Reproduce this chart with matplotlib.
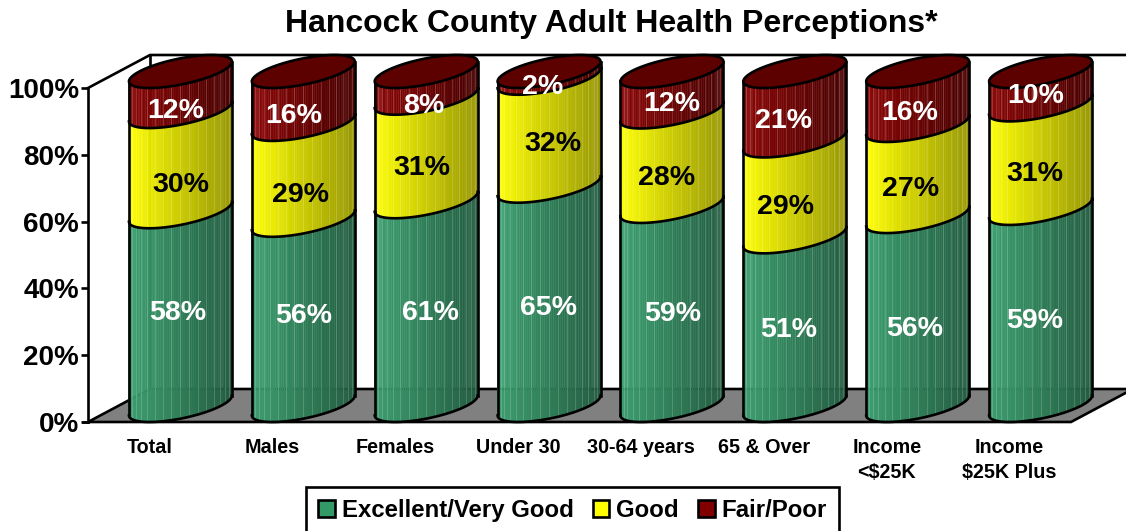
import numpy as np
import matplotlib
matplotlib.use("Agg")
import matplotlib.pyplot as plt
from matplotlib.patches import Patch, Polygon
from matplotlib.collections import PolyCollection

plt.rcParams["font.family"] = ["Liberation Sans", "DejaVu Sans"]
plt.rcParams["font.weight"] = "bold"

categories = ["Total", "Males", "Females", "Under 30", "30-64 years", "65 & Over",
              "Income\n<$25K", "Income\n$25K Plus"]
excellent = [58, 56, 61, 65, 59, 51, 56, 59]
good = [30, 29, 31, 32, 28, 29, 27, 31]
fair = [12, 16, 8, 2, 12, 21, 16, 10]
series_names = ["Excellent/Very Good", "Good", "Fair/Poor"]
yticks = [0, 20, 40, 60, 80, 100]

# hand placed data labels in the original: height on the front plane and x nudge in px
label_level = [
    [33.5, 32.6, 33.5, 35.0, 33.2, 28.4, 28.7, 31.1],
    [71.6, 68.6, 76.9, 84.1, 73.7, 65.0, 70.4, 75.1],
    [94.0, 92.5, 95.5, 100.9, 96.1, 91.0, 93.4, 98.5],
]
label_nudge = [
    [-2.5, 0, 4, -1, 1, -6, -3, -6],
    [0.5, -3, -4, 4, -5, -9, -7, -6],
    [-4.5, -10, -2, -6, 0, -11, -8, -5],
]

W, H = 1126, 531
X0, X1 = 88, 1071
Y0, Y100 = 422, 88
PX_X = (X1 - X0) / len(categories)
PX_Y = (Y0 - Y100) / 100
DX = 62 / PX_X
DY = 33 / PX_Y
A = 41.1 / PX_X
LW = 1.9
N_FACETS = 18

left_cols = [np.array([0x3C, 0xA0, 0x70]), np.array([0xFF, 0xFF, 0x00]), np.array([0x8C, 0x06, 0x06])]
right_cols = [np.array([0x22, 0x5C, 0x40]), np.array([0x96, 0x96, 0x00]), np.array([0x48, 0x00, 0x00])]
label_cols = ["white", "black", "white"]
legend_cols = ["#339966", "#FFFF00", "#800000"]
TOP_COL = "#5C0000"


def ring(x, level, t):
    """Point on the slanted ellipse of a cylinder at this stacked level."""
    cx = x + 0.5 + DX / 2
    cy = level + DY / 2
    return cx + A * np.cos(t) + DX / 2 * np.sin(t), cy + DY / 2 * np.sin(t)


def draw_segment(ax, x, lo, hi, idx):
    t0 = np.arctan2(DX / 2, A)
    t = np.linspace(t0 + np.pi, t0 + 2 * np.pi, 4 * N_FACETS + 1)
    xs, yl = ring(x, lo, t)
    _, yh = ring(x, hi, t)
    polys, cols = [], []
    for j in range(4 * N_FACETS):
        polys.append([(xs[j], yl[j]), (xs[j + 1], yl[j + 1]), (xs[j + 1], yh[j + 1]), (xs[j], yh[j])])
        f = ((xs[j] + xs[j + 1]) / 2 - xs[0]) / (xs[-1] - xs[0])
        cols.append((left_cols[idx] * (1 - f) + right_cols[idx] * f) / 255)
    ax.add_collection(PolyCollection(polys, facecolors=cols, edgecolors=cols, lw=0.3,
                                     clip_on=False, zorder=3))
    # pale seams between the facets
    for j in range(4, 4 * N_FACETS, 4):
        ax.plot([xs[j], xs[j]], [yl[j], yh[j]], color="white", alpha=0.2, lw=0.6,
                clip_on=False, zorder=3.1, solid_capstyle="butt")
    ax.plot(xs, yl, color="black", lw=LW, clip_on=False, zorder=4)
    ax.plot([xs[0], xs[0]], [yl[0], yh[0]], color="black", lw=LW, clip_on=False, zorder=4)
    ax.plot([xs[-1], xs[-1]], [yl[-1], yh[-1]], color="black", lw=LW, clip_on=False, zorder=4)


fig = plt.figure(figsize=(W / 100, H / 100), dpi=100)
ax = fig.add_axes([X0 / W, 1 - Y0 / H, (X1 - X0) / W, (Y0 - Y100) / H])
n = len(categories)
ax.set_xlim(0, n)
ax.set_ylim(0, 100)

# floor and walls
floor = Polygon([(0, 0), (DX, DY), (n + DX, DY), (n, 0)], closed=True, facecolor="#808080",
                edgecolor="black", lw=LW, clip_on=False, zorder=1)
ax.add_patch(floor)
ax.plot([0, DX, n + DX], [100, 100 + DY, 100 + DY], color="black", lw=LW, clip_on=False, zorder=1)
ax.plot([DX, DX], [DY, 100 + DY], color="black", lw=LW, clip_on=False, zorder=1)

values = np.array([excellent, good, fair], dtype=float)
stack = np.cumsum(values / values.sum(axis=0) * 100, axis=0)
for i in range(n):
    lo = 0.0
    for s in range(3):
        draw_segment(ax, i, lo, stack[s, i], s)
        lo = stack[s, i]
    t = np.linspace(0, 2 * np.pi, 80)
    ex, ey = ring(i, 100, t)
    ax.add_patch(Polygon(np.column_stack([ex, ey]), closed=True, facecolor=TOP_COL,
                         edgecolor="black", lw=LW, clip_on=False, zorder=5))
    for s, vals in enumerate(values):
        ax.annotate(f"{int(vals[i])}%", xy=(i + 0.5 + DX / 2, label_level[s][i]),
                    xytext=(label_nudge[s][i] * 0.72, -1.8), textcoords="offset points",
                    ha="center", va="center", fontsize=20.5, fontweight="bold",
                    color=label_cols[s], zorder=6, annotation_clip=False)

ax.patch.set_visible(False)
for name in ["top", "right", "bottom"]:
    ax.spines[name].set_visible(False)
ax.spines["left"].set_linewidth(LW)
ax.spines["left"].set_zorder(2)
ax.set_yticks(yticks)
ax.set_yticklabels([f"{v}%" for v in yticks], fontsize=20, fontweight="bold")
ax.tick_params(axis="y", length=5, width=LW, pad=1.5)
ax.set_xticks(np.arange(n) + 0.5)
ax.set_xticklabels(categories, fontsize=14.2, fontweight="bold", linespacing=1.4)
ax.tick_params(axis="x", length=0, pad=11.5)
ax.plot([-5 / PX_X, 0], [0, 0], color="black", lw=LW, clip_on=False, zorder=2)

fig.text(611 / W, 1 - 24 / H, "Hancock County Adult Health Perceptions*", ha="center", va="center",
         fontsize=23, fontweight="bold")

handles = [Patch(facecolor=c, edgecolor="black", lw=LW) for c in legend_cols]
leg = fig.legend(handles, series_names, loc="upper left", bbox_to_anchor=(306 / W, 1 - 487 / H),
                 ncol=3, fontsize=17.3, frameon=True, fancybox=False, edgecolor="black", framealpha=1,
                 handlelength=0.7, handleheight=0.7, handletextpad=0.28, columnspacing=0.8,
                 borderpad=0.5, borderaxespad=0)
leg.get_frame().set_linewidth(LW)

fig.savefig("out.png", dpi=100)
